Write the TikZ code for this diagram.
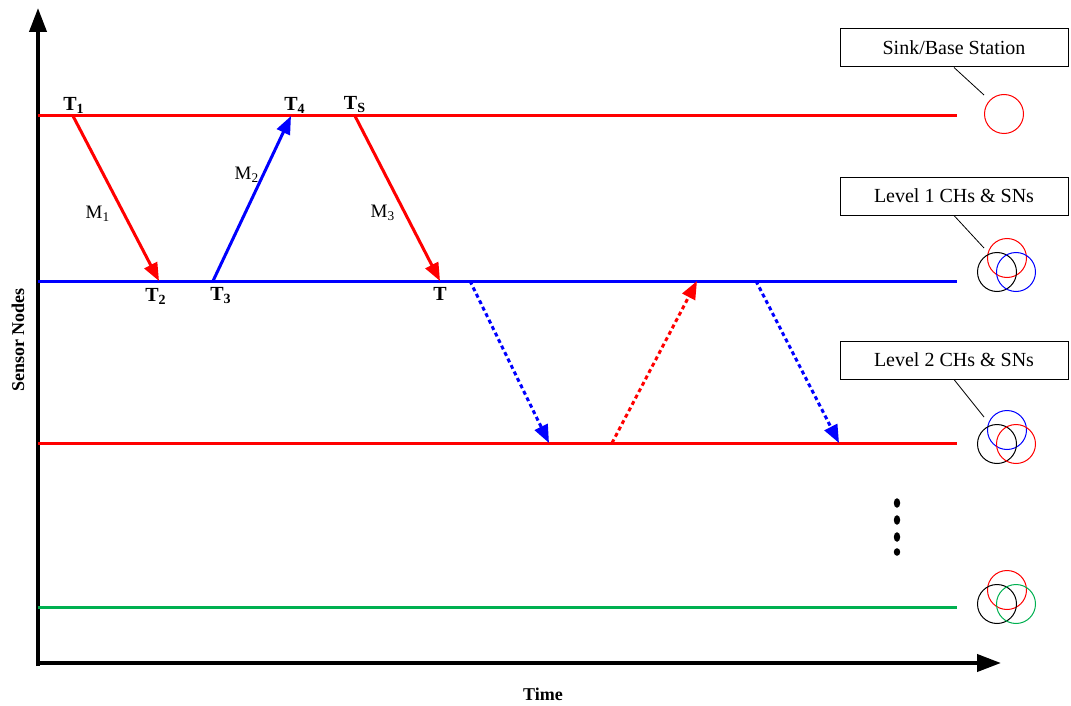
\documentclass[tikz,border=0pt]{standalone}
\usepackage{fontspec}
\setmainfont{Liberation Serif}
\usetikzlibrary{arrows,arrows.meta}
\definecolor{lvlgreen}{RGB}{0,176,80}

\begin{document}
\begin{tikzpicture}[
x=0.5pt,y=-0.5pt,
lvl/.style={line width=1.5pt},
msg/.style={-{Triangle[length=9pt,width=7pt]},line width=1.5pt},
later/.style={msg,dash pattern=on 2pt off 1.6pt},
axis/.style={-{Triangle[length=12pt,width=8.5pt]},line width=2pt},
tlabel/.style={font=\fontsize{10}{12}\selectfont\bfseries,inner sep=0pt},
mlabel/.style={font=\fontsize{9.5}{11}\selectfont,inner sep=0pt},
legend/.style={draw,line width=0.5pt,minimum width=114pt,minimum height=19pt,inner sep=0pt,font=\fontsize{10}{12}\selectfont},
ring/.style={circle,draw,line width=0.5pt,minimum size=19.5pt,inner sep=0pt},
pin/.style={line width=0.4pt} ]

\useasboundingbox (0,0) rectangle (1071,706);

% axes
\coordinate (O) at (38,663);
\coordinate (ytop) at (38,8);
\coordinate (xend) at (1001,663);
\draw[axis] (38,666) -- (ytop);
\draw[axis] (O) -- (xend);

\node[font=\fontsize{9}{11}\selectfont\bfseries,rotate=90] (ylab) at (18,340) {Sensor Nodes};

\node[font=\fontsize{9}{11}\selectfont\bfseries] (xlab) at (543,694) {Time};

% levels
\coordinate (s0) at (38,116);
\coordinate (s1) at (957,116);
\coordinate (a0) at (38,281);
\coordinate (a1) at (957,281);
\coordinate (b0) at (38,443);
\coordinate (b1) at (957,443);
\coordinate (c0) at (38,607);
\coordinate (c1) at (957,607);

\draw[lvl,red] (s0) -- (s1);
\draw[lvl,blue] (a0) -- (a1);
\draw[lvl,red] (b0) -- (b1);
\draw[lvl,lvlgreen] (c0) -- (c1);

% time stamps
\coordinate (t1) at (73,116);
\coordinate (t2) at (159,281);
\coordinate (t3) at (213,281);
\coordinate (t4) at (291,116);
\coordinate (ts) at (355,116);
\coordinate (t) at (440,281);

\draw[msg,red] (t1) -- (t2);
\draw[msg,blue] (t3) -- (t4);
\draw[msg,red] (ts) -- (t);

\node[tlabel] (lt1) at (74,105) {T\textsubscript{1}};
\node[tlabel] (lt2) at (156,296) {T\textsubscript{2}};
\node[tlabel] (lt3) at (221,296) {T\textsubscript{3}};
\node[tlabel] (lt4) at (295,105) {T\textsubscript{4}};
\node[tlabel] (lts) at (355,105) {T\textsubscript{S}};
\node[tlabel] (lt) at (440,294) {T};

\node[mlabel] (m1) at (98,214) {M\textsubscript{1}};
\node[mlabel] (m2) at (247,175) {M\textsubscript{2}};
\node[mlabel] (m3) at (383,213) {M\textsubscript{3}};

% lower levels
\coordinate (p1) at (470,281);
\coordinate (q1) at (549,443);
\coordinate (q2) at (612,443);
\coordinate (p2) at (697,281);
\coordinate (p3) at (756,281);
\coordinate (q3) at (839,443);

\draw[later,blue] (p1) -- (q1);
\draw[later,red] (q2) -- (p2);
\draw[later,blue] (p3) -- (q3);

% legend
\node[legend] (sink) at (954,48) {Sink/Base Station};
\node[legend] (lv1) at (954,196) {Level 1 CHs \& SNs};
\node[legend] (lv2) at (954,360) {Level 2 CHs \& SNs};

\node[ring,red] (r0) at (1004,114) {};

\node[ring,red] (r1a) at (1007,258) {};
\node[ring] (r1b) at (997,272) {};
\node[ring,blue] (r1c) at (1016,272) {};

\node[ring,blue] (r2a) at (1007,430) {};
\node[ring] (r2b) at (997,444) {};
\node[ring,red] (r2c) at (1016,444) {};

\node[ring,red] (r3a) at (1007,590) {};
\node[ring] (r3b) at (997,604) {};
\node[ring,lvlgreen] (r3c) at (1016,604) {};

\coordinate (k0) at (984,95);
\coordinate (k1) at (984,248);
\coordinate (k2) at (984,417);
\draw[pin] (sink.south) -- (k0);
\draw[pin] (lv1.south) -- (k1);
\draw[pin] (lv2.south) -- (k2);

% more levels
\foreach \y in {503,520,537} {
  \fill (897,\y) ellipse (1.6pt and 2.4pt);
}
\fill (897,552) ellipse (1.6pt and 1.9pt);

\end{tikzpicture}
\end{document}
